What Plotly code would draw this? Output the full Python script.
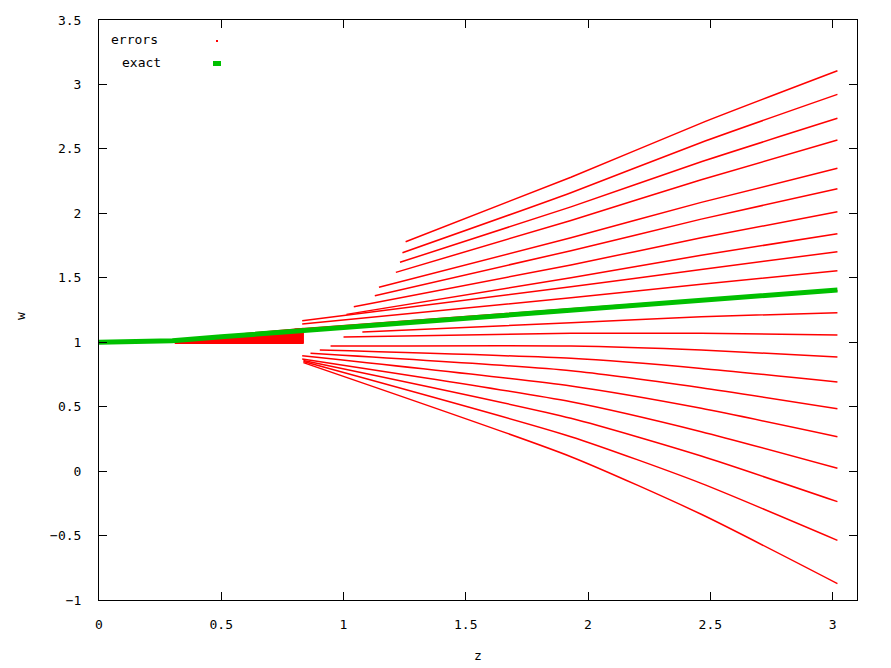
import plotly.graph_objects as go

# exact solution
exact_z = [0.0, 0.18, 0.30, 0.50, 0.75, 1.00, 1.50, 1.93, 2.50, 3.02]
exact_w = [1.0, 1.003, 1.012, 1.042, 1.078, 1.115, 1.185, 1.25, 1.33, 1.405]

# perturbed ("errors") curves: start point, value at z=1.93, z=2.46, end at z=3.02
err_z0 = [1.254, 1.241, 1.231, 1.214, 1.145, 1.128, 1.042, 1.012, 0.831, 0.831, 0.80,
          1.077, 1.00, 0.947, 0.903, 0.865, 0.831, 0.831, 0.836, 0.836, 0.836]
err_w0 = [1.780, 1.694, 1.620, 1.542, 1.426, 1.361, 1.275, 1.216, 1.167, 1.141, 1.10,
          1.080, 1.040, 0.970, 0.939, 0.914, 0.895, 0.870, 0.858, 0.850, 0.842]
err_wmid = [2.28, 2.16, 2.05, 1.945, 1.81, 1.71, 1.60, 1.50, 1.43, 1.345, 1.26,
            1.151, 1.069, 0.971, 0.875, 0.779, 0.660, 0.538, 0.410, 0.267, 0.112]
err_wq = [2.70, 2.55, 2.40, 2.26, 2.085, 1.955, 1.81, 1.675, 1.565, 1.45, 1.33,
          1.198, 1.069, 0.940, 0.797, 0.647, 0.487, 0.306, 0.117, -0.095, -0.335]
err_wend = [3.106, 2.923, 2.737, 2.569, 2.349, 2.191, 2.012, 1.842, 1.702, 1.555, 1.40,
            1.229, 1.056, 0.885, 0.691, 0.484, 0.267, 0.022, -0.237, -0.537, -0.873]
z_mid, z_q, z_end = 1.93, 2.463, 3.02

# dense red band of early error curves just under the exact solution
band_z = [0.31, 0.45, 0.60, 0.70, 0.836, 0.836, 0.70, 0.60, 0.45, 0.31]
band_w = [0.99, 0.99, 0.99, 0.99, 0.99, 1.108, 1.087, 1.069, 1.035, 1.0]

RED = "#ff0000"
GREEN = "#00c000"
FONT = "DejaVu Sans Mono"

fig = go.Figure()

fig.add_trace(go.Scatter(x=band_z, y=band_w, mode="lines", fill="toself",
                         fillcolor=RED, line=dict(color=RED, width=1),
                         name="errors", showlegend=False, hoverinfo="skip"))

for i in range(len(err_z0)):
    fig.add_trace(go.Scatter(
        x=[err_z0[i], z_mid, z_q, z_end],
        y=[err_w0[i], err_wmid[i], err_wq[i], err_wend[i]],
        mode="lines", line=dict(color=RED, width=1.5, shape="spline", smoothing=0.6),
        name="errors", showlegend=False))

fig.add_trace(go.Scatter(x=exact_z, y=exact_w, mode="lines",
                         line=dict(color=GREEN, width=5),
                         name="exact", showlegend=False))

axis_common = dict(showgrid=False, zeroline=False, showline=True, linecolor="black",
                   linewidth=1, mirror="ticks", ticks="inside", ticklen=8,
                   tickcolor="black", dtick=0.5, automargin=False,
                   tickfont=dict(family=FONT, size=13, color="black"))

fig.update_xaxes(range=[0, 3.1], tick0=0, ticklabelstandoff=12, **axis_common)
fig.update_yaxes(range=[-1, 3.5], tick0=-1, ticklabelstandoff=14, **axis_common)

# axis labels
fig.add_annotation(xref="paper", yref="paper", x=(478 - 99) / 758, y=(600 - 655) / 580,
                   text="z", showarrow=False, xanchor="center", yanchor="middle",
                   font=dict(family=FONT, size=13, color="black"))
fig.add_annotation(xref="paper", yref="paper", x=(20 - 99) / 758, y=(600 - 316) / 580,
                   text="w", showarrow=False, xanchor="center", yanchor="middle",
                   textangle=-90, font=dict(family=FONT, size=13, color="black"))

# gnuplot-style key: text right-justified, sample to the right
fig.add_annotation(xref="paper", yref="paper", x=(160 - 99) / 758, y=(600 - 40) / 580,
                   text="errors", showarrow=False, xanchor="right", yanchor="middle",
                   font=dict(family=FONT, size=13, color="black"))
fig.add_annotation(xref="paper", yref="paper", x=(163 - 99) / 758, y=(600 - 63) / 580,
                   text="exact", showarrow=False, xanchor="right", yanchor="middle",
                   font=dict(family=FONT, size=13, color="black"))
fig.add_shape(type="rect", xref="paper", yref="paper",
              x0=(216 - 99) / 758, x1=(218 - 99) / 758,
              y0=(600 - 42) / 580, y1=(600 - 40) / 580,
              fillcolor=RED, line=dict(width=0))
fig.add_shape(type="rect", xref="paper", yref="paper",
              x0=(213 - 99) / 758, x1=(221 - 99) / 758,
              y0=(600 - 66) / 580, y1=(600 - 61) / 580,
              fillcolor=GREEN, line=dict(width=0))

# page body has an 8px margin, so the figure is 8px smaller and the margins shifted
fig.update_layout(width=883, height=660, plot_bgcolor="white", paper_bgcolor="white",
                  margin=dict(l=91, r=34, t=12, b=68), showlegend=False)

fig.write_html("out.html")
